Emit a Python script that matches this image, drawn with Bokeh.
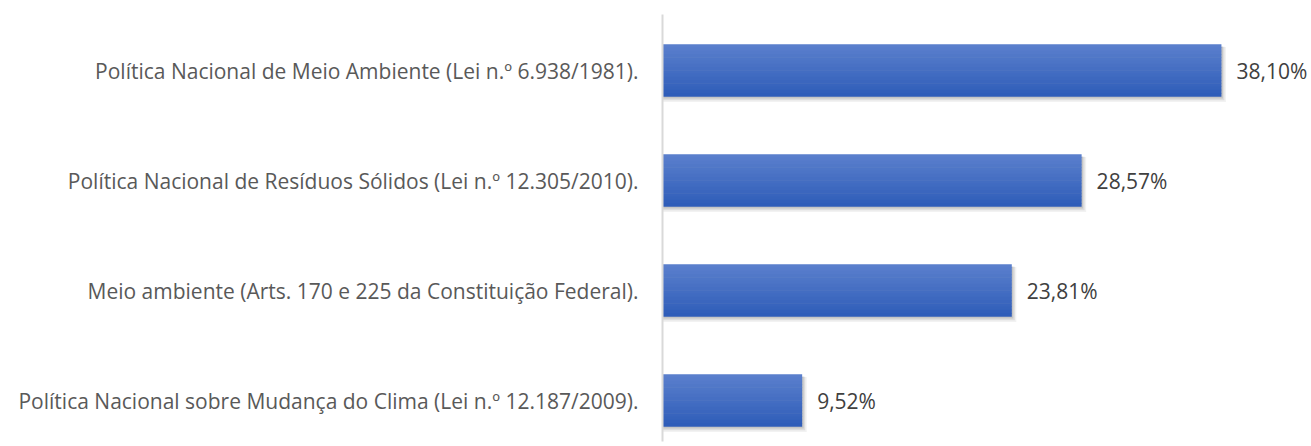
import numpy as np
from bokeh.plotting import figure
from bokeh.models import ColumnDataSource, Range1d, FixedTicker
from bokeh.core.properties import value
from bokeh.embed import file_html
from bokeh.resources import INLINE

# ---- data (bottom to top) ----
categories = [
    "Política Nacional sobre Mudança do Clima (Lei n.º 12.187/2009).",
    "Meio ambiente (Arts. 170 e 225 da Constituição Federal).",
    "Política Nacional de Resíduos Sólidos (Lei n.º 12.305/2010).",
    "Política Nacional de Meio Ambiente (Lei n.º 6.938/1981).",
]
values = [9.52, 23.81, 28.57, 38.10]
value_labels = ["9,52%", "23,81%", "28,57%", "38,10%"]

idx = np.arange(len(categories), dtype=float)
vals = np.array(values)

PX_PER_UNIT_Y = 110.0
BAR_H = 52.0 / PX_PER_UNIT_Y

p = figure(width=1311, height=446, output_backend="svg", toolbar_location=None,
           x_range=Range1d(0, 44.24),
           y_range=Range1d(-41.0 / PX_PER_UNIT_Y, 3 + 56.0 / PX_PER_UNIT_Y),
           min_border_left=662, min_border_right=0, min_border_top=14,
           min_border_bottom=5, outline_line_color=None,
           background_fill_color="white", border_fill_color="white")

# shadow layers
for dy, grow, alpha in [(4.0, 3.0, 0.10), (3.0, 1.5, 0.18), (2.0, 0.0, 0.25)]:
    sh = ColumnDataSource(dict(y=idx - dy / PX_PER_UNIT_Y,
                               right=vals + (1.5 + grow) / 14.67,
                               left=np.full_like(vals, 0.0)))
    p.hbar(y="y", left="left", right="right", height=BAR_H + grow / PX_PER_UNIT_Y,
           source=sh, fill_color="#808080", fill_alpha=alpha, line_color=None)

# gradient bars built from thin strips
top = np.array([0x5B, 0x80, 0xCD], dtype=float)
bot = np.array([0x2E, 0x5C, 0xB8], dtype=float)
N = 16
strip_h = BAR_H / N
for i in range(N):
    t = (i + 0.5) / N  # 0 top -> 1 bottom
    c = top + (bot - top) * t
    col = "#%02x%02x%02x" % tuple(int(round(v)) for v in c)
    off = BAR_H / 2 - (i + 0.5) * strip_h
    src = ColumnDataSource(dict(y=idx + off, right=vals))
    p.hbar(y="y", left=0, right="right", height=strip_h * 1.08, source=src,
           fill_color=col, line_color=None)

# value labels
lab = ColumnDataSource(dict(x=vals, y=idx, t=value_labels))
p.text(x="x", y="y", text="t", source=lab, x_offset=15,
       text_align="left", text_baseline="middle",
       text_font=value("Open Sans"), text_font_size="21px", text_color="#404040")

# axes
p.xaxis.visible = False
p.xgrid.visible = False
p.ygrid.visible = False
ya = p.yaxis[0]
ya.ticker = FixedTicker(ticks=list(idx))
ya.major_label_overrides = {float(i): c for i, c in enumerate(categories)}
ya.major_label_overrides.update({int(i): c for i, c in enumerate(categories)})
ya.major_tick_line_color = None
ya.minor_tick_line_color = None
ya.major_tick_out = 0
ya.major_tick_in = 0
ya.axis_line_color = "#D9D9D9"
ya.axis_line_width = 2
ya.major_label_standoff = 24
ya.major_label_text_font = "Open Sans"
ya.major_label_text_font_size = "21px"
ya.major_label_text_color = "#595959"

open("out.html", "w").write(file_html(p, INLINE))
